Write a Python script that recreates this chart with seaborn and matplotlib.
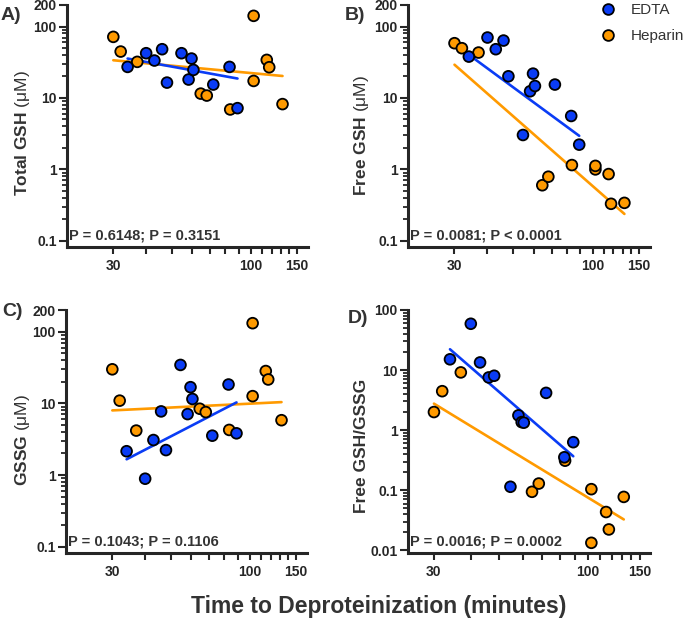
import matplotlib
matplotlib.use("Agg")
import matplotlib.pyplot as plt
import pandas as pd
import seaborn as sns

# time to deproteinization (minutes), one entry per sample
time_edta = [34, 40, 43, 46, 48, 54.5, 58, 59.5, 60.5, 72, 83, 89]
time_heparin = [30, 32, 37, 64.5, 68, 83.5, 102.5, 102.5, 115, 117.5, 132]

total_gsh_edta = [27.2, 42.3, 33.4, 48.1, 16.4, 42.3, 18.1, 35.6, 24.7, 15.4, 27.2, 7.2]
total_gsh_heparin = [71.6, 44.6, 32.0, 11.5, 10.8, 6.9, 141, 17.3, 34.1, 26.9, 8.2]

free_gsh_edta = [37.9, 70.1, 48.1, 63.6, 20.1, 3.03, 12.4, 21.9, 14.7, 15.4, 5.59, 2.22]
free_gsh_heparin = [58.4, 49.7, 43.2, 0.6, 0.79, 1.15, 1.0, 1.12, 0.86, 0.33, 0.34]

gssg_edta = [2.15, 0.89, 3.08, 7.72, 2.23, 34.3, 7.08, 16.8, 11.5, 3.54, 18.3, 3.82]
gssg_heparin = [29.8, 10.9, 4.17, 8.41, 7.55, 4.26, 131, 12.6, 28.2, 21.5, 5.82]

ratio_edta = [15.1, 59, 13.4, 7.54, 8.04, 0.114, 1.76, 1.36, 1.33, 4.17, 0.353, 0.63]
ratio_heparin = [2.0, 4.45, 9.14, 0.094, 0.129, 0.31, 0.104, 0.0133, 0.0433, 0.0222, 0.0773]

# fitted regression values at the first and last time of each group (as published)
fit_total_gsh_edta = [35.6, 18.7]
fit_total_gsh_heparin = [33.7, 20.3]
fit_free_gsh_edta = [40.3, 2.95]
fit_free_gsh_heparin = [29.2, 0.238]
fit_gssg_edta = [1.66, 10.3]
fit_gssg_heparin = [7.97, 10.4]
fit_ratio_edta = [22.2, 0.367]
fit_ratio_heparin = [2.76, 0.0326]

panel_labels = ["A)", "B)", "C)", "D)"]
y_labels = [
    r"Total GSH $\mathrm{(\mu M)}$",
    r"Free GSH $\mathrm{(\mu M)}$",
    r"GSSG $\mathrm{(\mu M)}$",
    "Free GSH/GSSG",
]
p_texts = [
    "P = 0.6148; P = 0.3151",
    "P = 0.0081; P < 0.0001",
    "P = 0.1043; P = 0.1106",
    "P = 0.0016; P = 0.0002",
]
x_ticks = [30, 40, 50, 60, 70, 80, 90, 100, 110, 120, 130, 140, 150]
x_tick_labels = ["30", "", "", "", "", "", "", "100", "", "", "", "", "150"]
y_ticks_um = [0.1, 1, 10, 100, 200]
y_ticks_ratio = [0.01, 0.1, 1, 10, 100]

sns.set_style("ticks")
plt.rcParams["font.family"] = ["Liberation Sans", "DejaVu Sans"]
plt.rcParams["mathtext.fontset"] = "custom"
plt.rcParams["mathtext.rm"] = "Liberation Sans"

EDTA_COLOR = "#0a3cf5"
HEPARIN_COLOR = "#ff9a00"
TEXT = "#333333"
palette = {"EDTA": EDTA_COLOR, "Heparin": HEPARIN_COLOR}

panels = [
    (total_gsh_edta, total_gsh_heparin, fit_total_gsh_edta, fit_total_gsh_heparin),
    (free_gsh_edta, free_gsh_heparin, fit_free_gsh_edta, fit_free_gsh_heparin),
    (gssg_edta, gssg_heparin, fit_gssg_edta, fit_gssg_heparin),
    (ratio_edta, ratio_heparin, fit_ratio_edta, fit_ratio_heparin),
]

W, H = 685, 626
fig = plt.figure(figsize=(W / 100, H / 100), dpi=100)
# axes boxes in pixels: left, top, right, bottom
boxes = [(67, 5, 308, 247), (408, 5, 650, 247), (66, 310, 307, 553), (408, 310, 650, 553)]
label_pos = [(11, 15), (355, 15), (12, 312), (358, 318)]
ylabel_pos = [(-0.183, 0.47), (-0.194, 0.46), (-0.18, 0.465), (-0.194, 0.44)]

for i, ((edta, hep, fit_e, fit_h), box) in enumerate(zip(panels, boxes)):
    l, t, r, b = box
    ax = fig.add_axes([l / W, 1 - b / H, (r - l) / W, (b - t) / H])
    ax.set_xscale("log")
    ax.set_yscale("log")

    # regression lines across each group's time range
    ax.plot([min(time_heparin), max(time_heparin)], fit_h, color=HEPARIN_COLOR, lw=1.9, zorder=2)
    ax.plot([min(time_edta), max(time_edta)], fit_e, color=EDTA_COLOR, lw=1.9, zorder=2)

    df = pd.DataFrame({
        "time": time_heparin + time_edta,
        "value": hep + edta,
        "group": ["Heparin"] * len(hep) + ["EDTA"] * len(edta),
    })
    sns.scatterplot(
        data=df, x="time", y="value", hue="group", hue_order=["EDTA", "Heparin"],
        palette=palette, s=60, edgecolor="black", linewidth=1.3,
        legend=(i == 1), ax=ax, zorder=3, clip_on=False,
    )

    ax.set_xticks(x_ticks, labels=x_tick_labels, fontweight="bold", fontsize=10)
    ax.set_xticks([], minor=True)
    if i == 3:
        yt = y_ticks_ratio
        minor = [m * 10.0 ** e for e in range(-2, 2) for m in range(2, 10)]
        ylim = (0.0090, 100)
        xlim = (24.5, 162)
    else:
        yt = y_ticks_um
        minor = [m * 10.0 ** e for e in range(-1, 2) for m in range(2, 10)]
        ylim = (0.082, 200)
        xlim = (20, 165)
    ax.set_yticks(yt, labels=[f"{v:g}" for v in yt], fontweight="bold", fontsize=10)
    ax.set_yticks(minor, minor=True)
    ax.yaxis.set_minor_formatter(plt.NullFormatter())
    ax.set_xlim(*xlim)
    ax.set_ylim(*ylim)

    sns.despine(ax=ax)
    for side in ["left", "bottom"]:
        ax.spines[side].set_linewidth(2.2)
    ax.tick_params(axis="y", which="major", length=5.8, width=1.5, pad=1.5)
    ax.tick_params(axis="y", which="minor", length=3.8, width=1.3)
    ax.tick_params(axis="x", which="major", length=5.0, width=1.5, pad=3.5)
    ax.set_xlabel("")
    ax.set_ylabel("")

    ax.text(*ylabel_pos[i], y_labels[i], transform=ax.transAxes, rotation=90,
            ha="center", va="center", fontsize=12.5, fontweight="bold", color=TEXT)
    ax.text(0.01, 0.048, p_texts[i], transform=ax.transAxes, ha="left", va="center",
            fontsize=10.5, fontweight="bold", color=TEXT)
    fig.text(label_pos[i][0] / W, 1 - label_pos[i][1] / H, panel_labels[i],
             ha="center", va="center", fontsize=14, fontweight="bold", color=TEXT)

    if i == 1:
        sns.move_legend(
            ax, "upper left", bbox_to_anchor=(600 / W, 1 - 3 / H),
            bbox_transform=fig.transFigure, frameon=False, title=None,
            fontsize=11, handlelength=1.0, handletextpad=1.0, labelspacing=0.8,
            borderpad=0, borderaxespad=0, markerscale=1.0,
        )
        for txt in ax.get_legend().get_texts():
            txt.set_color(TEXT)

fig.text(379 / W, 1 - 607 / H, "Time to Deproteinization (minutes)",
         ha="center", va="center", fontsize=16.5, fontweight="bold", color=TEXT)

fig.savefig("out.png", dpi=100)
